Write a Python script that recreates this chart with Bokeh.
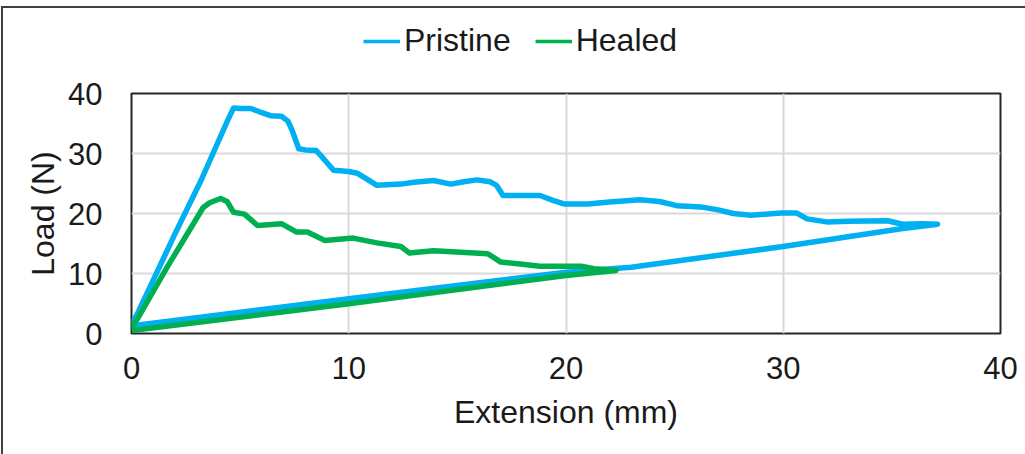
from bokeh.plotting import figure
from bokeh.models import Legend, LegendItem, FixedTicker
from bokeh.layouts import column
from bokeh.embed import file_html
from bokeh.resources import INLINE

# Pristine: loading, post-peak decay, then unloading back to origin
pristine_x = [0, 0.3, 2.0, 3.2, 4.4, 4.7, 5.0, 5.5, 6.0, 6.4, 6.9, 7.2, 7.4, 7.7, 8.0, 8.5,
              8.8, 9.3, 10.0, 10.4, 10.8, 11.3, 12.4, 13.0, 13.9, 14.7, 15.3, 15.9, 16.5,
              16.8, 17.1, 17.5, 18.8, 19.4, 19.9, 21.0, 22.0, 23.4, 24.3, 25.1, 26.2, 27.0,
              27.7, 28.5, 29.9, 30.6, 31.1, 32.0, 33.0, 34.8, 35.5, 36.4, 37.1,
              35.5, 30.0, 23.0, 20.0, 10.0, 0.5, 0]
pristine_y = [1.5, 3.5, 16.6, 25.5, 35.3, 37.6, 37.5, 37.5, 36.8, 36.3, 36.2, 35.4, 33.8,
              30.8, 30.6, 30.5, 29.3, 27.2, 27.0, 26.7, 25.8, 24.7, 24.9, 25.2, 25.5, 24.9,
              25.3, 25.6, 25.3, 24.7, 23.0, 23.0, 23.0, 22.2, 21.6, 21.6, 21.9, 22.3, 22.0,
              21.3, 21.1, 20.6, 20.0, 19.7, 20.1, 20.1, 19.1, 18.6, 18.7, 18.8, 18.2, 18.3,
              18.2, 17.5, 14.5, 11.05, 10.2, 5.8, 1.5, 1.2]

# Healed
healed_x = [0, 0.3, 1.64, 3.3, 3.6, 4.1, 4.4, 4.7, 5.2, 5.8, 6.9, 7.6, 8.1, 8.9, 10.2, 11.3,
            12.4, 12.8, 13.9, 16.4, 17.0, 18.1, 18.8, 20.7, 21.3, 22.3,
            20.0, 10.0, 0]
healed_y = [0.8, 2.6, 11.05, 21.0, 21.8, 22.5, 22.0, 20.2, 19.9, 18.0, 18.3, 16.9, 16.9,
            15.5, 15.9, 15.1, 14.5, 13.4, 13.8, 13.3, 11.9, 11.5, 11.2, 11.2, 10.8, 10.5,
            9.67, 4.95, 0.5]

series_names = ["Pristine", "Healed"]
series_colors = ["#00B0F0", "#00B050"]

x_ticks = [0, 10, 20, 30, 40]
y_ticks = [0, 10, 20, 30, 40]

FONT = "Liberation Sans"
TXT = "#1a1a1a"

# ---- main chart ----
p = figure(frame_width=869, frame_height=240, x_range=(0, 40), y_range=(0, 40),
           output_backend="svg", toolbar_location=None,
           min_border_left=128, min_border_top=16, min_border_right=25, min_border_bottom=121)

p.outline_line_color = "#262626"
p.outline_line_width = 2
p.background_fill_color = "white"
p.border_fill_color = "white"

for ax, tk in ((p.xaxis[0], x_ticks), (p.yaxis[0], y_ticks)):
    ax.ticker = FixedTicker(ticks=tk)
    ax.axis_line_color = None
    ax.major_tick_line_color = None
    ax.minor_tick_line_color = None
    ax.major_tick_out = 0
    ax.major_tick_in = 0
    ax.major_label_text_font = FONT
    ax.major_label_text_font_size = "31px"
    ax.major_label_text_color = TXT
    ax.axis_label_text_font = FONT
    ax.axis_label_text_font_size = "32px"
    ax.axis_label_text_font_style = "normal"
    ax.axis_label_text_color = TXT

p.xaxis.axis_label = "Extension (mm)"
p.yaxis.axis_label = "Load (N)"
p.yaxis.major_label_standoff = 29
p.yaxis.axis_label_standoff = 4
p.xaxis.major_label_standoff = 23
p.xaxis.axis_label_standoff = 12

p.xgrid.ticker = FixedTicker(ticks=x_ticks)
p.ygrid.ticker = FixedTicker(ticks=y_ticks)
p.grid.grid_line_color = "#d9d9d9"
p.grid.grid_line_width = 2

p.line(pristine_x, pristine_y, line_color=series_colors[0], line_width=5.5, line_join="round")
p.line(healed_x, healed_y, line_color=series_colors[1], line_width=5.5, line_join="round")

# ---- legend strip above the chart ----
lf = figure(frame_width=869, height=69, x_range=(0, 1), y_range=(0, 1),
            output_backend="svg", toolbar_location=None,
            min_border_left=128, min_border_right=25, min_border_top=0, min_border_bottom=0)
lf.axis.visible = False
lf.grid.visible = False
lf.outline_line_color = None
lf.background_fill_color = "white"
lf.border_fill_color = "white"

items = []
for name, col in zip(series_names, series_colors):
    r = lf.line([float("nan")], [float("nan")], line_color=col, line_width=3.5)
    items.append(LegendItem(label=name, renderers=[r]))

legend = Legend(items=items, orientation="horizontal", location=(232, 18),
                padding=0, margin=0, spacing=24, label_standoff=4,
                glyph_width=37, glyph_height=20,
                label_text_font=FONT, label_text_font_size="32px", label_text_color=TXT,
                border_line_color=None, background_fill_alpha=0)
lf.add_layout(legend, "center")

layout = column(lf, p, spacing=0)
layout.margin = (6, 0, 0, 1)
layout.styles = {"border-left": "2px solid #404040", "border-top": "2px solid #404040"}

open("out.html", "w").write(file_html(layout, INLINE))
